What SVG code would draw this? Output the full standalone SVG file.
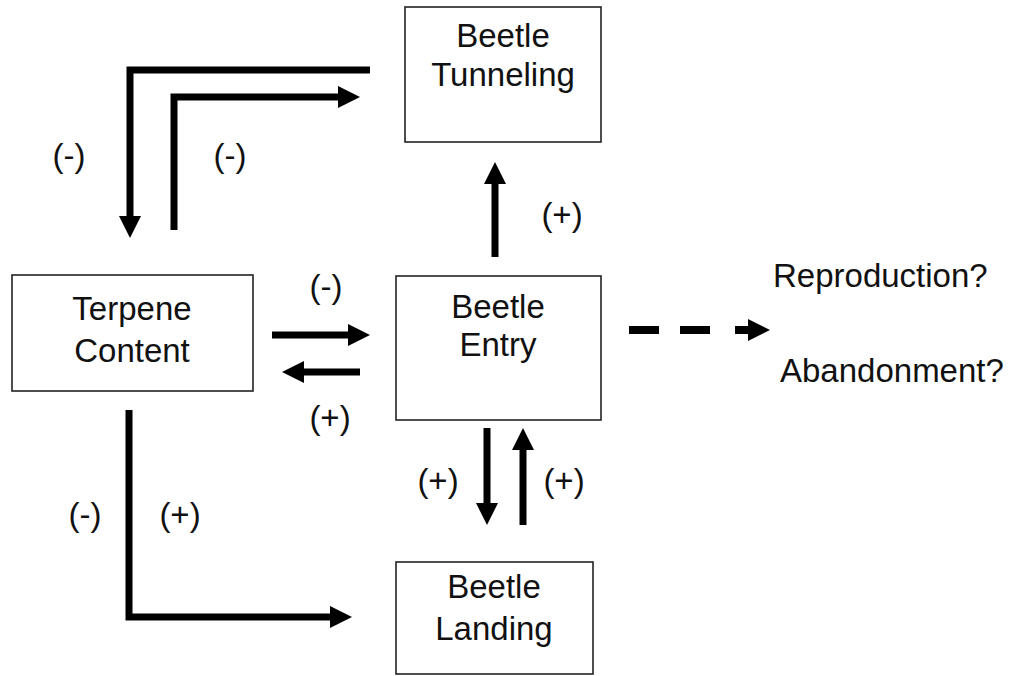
<svg xmlns="http://www.w3.org/2000/svg" width="1019" height="676" viewBox="0 0 1019 676">
<style>
.box{fill:#fff;stroke:#222;stroke-width:1.6}
.t{font-family:"Liberation Sans",Arial,sans-serif;font-size:33px;fill:#111;text-anchor:middle}
.ts{font-family:"Liberation Sans",Arial,sans-serif;font-size:33px;fill:#111}
.c{fill:none;stroke:#000;stroke-width:7;stroke-linejoin:miter;stroke-linecap:butt}
.d{fill:none;stroke:#000;stroke-width:8}
</style>
<defs>
<marker id="ah" markerUnits="userSpaceOnUse" markerWidth="22" markerHeight="22" viewBox="0 0 22 22" refX="0" refY="11" orient="auto">
<path d="M0,0 L22,11 L0,22 Z" fill="#000"/>
</marker>
</defs>
<rect width="1019" height="676" fill="#fff"/>
<g id="tunneling">
<rect class="box" x="405" y="7" width="196" height="135"/>
<text class="t" x="503" y="47">Beetle</text>
<text class="t" x="503" y="86">Tunneling</text>
</g>
<g id="terpene">
<rect class="box" x="12" y="275" width="241" height="116"/>
<text class="t" x="132" y="320">Terpene</text>
<text class="t" x="132" y="362">Content</text>
</g>
<g id="entry">
<rect class="box" x="396" y="276" width="205" height="144"/>
<text class="t" x="498" y="318">Beetle</text>
<text class="t" x="498" y="356">Entry</text>
</g>
<g id="landing">
<rect class="box" x="396" y="562" width="197" height="112"/>
<text class="t" x="494" y="598">Beetle</text>
<text class="t" x="494" y="640">Landing</text>
</g>
<g id="reproduction">
<text class="ts" x="773" y="287">Reproduction?</text>
</g>
<g id="abandonment">
<text class="ts" x="780" y="382">Abandonment?</text>
</g>
<g id="connectors">
<path class="c" d="M370 70 H130 V216" marker-end="url(#ah)"/>
<path class="c" d="M174 230 V97 H338" marker-end="url(#ah)"/>
<path class="c" d="M495 257 V184" marker-end="url(#ah)"/>
<path class="c" d="M272 335 H348" marker-end="url(#ah)"/>
<path class="c" d="M360 372 H304" marker-end="url(#ah)"/>
<path class="c" d="M487 428 V503" marker-end="url(#ah)"/>
<path class="c" d="M523 525 V450" marker-end="url(#ah)"/>
<path class="c" d="M129 410 V617 H330" marker-end="url(#ah)"/>
<path class="d" d="M629 330 H659 M680 330 H710 M735 330 H748"/>
<path d="M748 319 L770 330 L748 341 Z" fill="#000"/>
</g>
<g id="labels">
<text class="t" x="69" y="167">(-)</text>
<text class="t" x="230" y="167">(-)</text>
<text class="t" x="562" y="226">(+)</text>
<text class="t" x="326" y="298">(-)</text>
<text class="t" x="330" y="429">(+)</text>
<text class="t" x="438" y="492">(+)</text>
<text class="t" x="564" y="492">(+)</text>
<text class="t" x="85" y="526">(-)</text>
<text class="t" x="180" y="526">(+)</text>
</g>
</svg>
